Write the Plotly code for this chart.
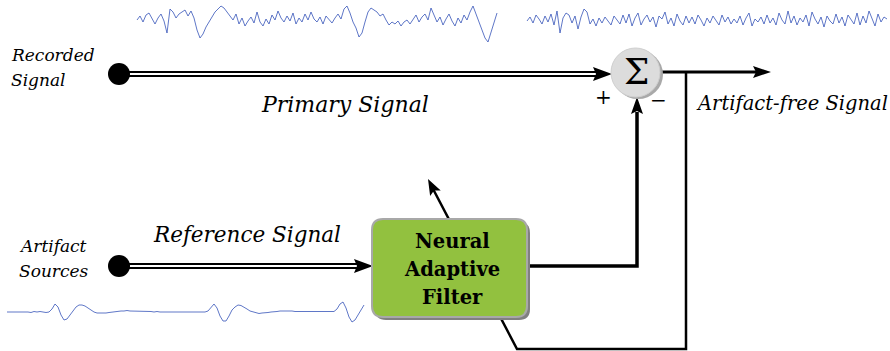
import plotly.graph_objects as go
import math

# ---------------- data ----------------
# recorded EEG (primary) trace, amplitude samples
recorded_eeg = [0, 4, -2, 5, 7, 1, -4, 2, 6, -1,
                -13, 11, 8, 2, 6, 8, 10, 4, 9, 2,
                -10, -18, -14, -7, -2, 4, 8, 11, 14, 12,
                8, 4, 0, 6, -4, 2, -6, -1, 3, -3,
                8, -2, -6, 1, -4, 5, 0, 9, 2, -2,
                4, -1, 7, -4, 2, -2, 6, 0, 8, 1,
                -2, 3, -4, 4, 0, -3, 2, 6, 1, 11,
                14, 7, -2, -8, -17, -13, -2, 8, 12, 10,
                8, 4, 6, 0, -5, -2, -4, -1, -6, -2,
                0, -4, 1, 5, -2, 3, 6, 0, 12, 4,
                -2, 3, -5, 1, 6, -1, -6, 2, -3, 5,
                0, 8, 14, 6, -2, -10, -18, -22, -13, -4,
                7]
# artifact-free output trace
clean_eeg = [0, 4, -2, 6, 2, -3, 5, -1, 7, -4,
             10, -12, 3, 8, 6, -2, 5, -8, 4, 12,
             9, -3, 2, -5, 3, -2, 4, 0, -4, 5,
             1, -3, 6, -2, 7, -5, 3, 8, -4, 2,
             6, -1, 4, -6, 5, 2, 9, -3, 3, -5,
             7, 0, -4, 5, -2, 4, -3, 6, 1, -5,
             3, -2, 5, 0, -4, 6, -1, 4, -3, 2,
             -2, 5, -4, 3, 8, -5, 2, -1, 4, -3,
             6, -2, 3, -4, 8, 1, -3, 10, -2, 5,
             -4, 3, -1, 6, -5, 9, 2, -3, 4, -6,
             5, 0, -3, 7, -2, 4, -5, 6, 1, -3,
             8, -4, 5, -2, 10, 3, -5, 7, -1, 4,
             2]
# artifact (EOG-like) reference trace
artifact = [0, 0, 0.5, 0, 0, 0.5, 0, 0, -0.5, 0.5,
            0, 0.5, 0, -0.5, 0, 3, 8, 5, -3, -8,
            -7, -3, 2, 5, 7, 7, 6, 4, 2, 0,
            -1, -1, -1.5, -1, -0.5, 0, 0.5, 1, 1, 1,
            1.5, 1, 1, 1, 1, 0.5, 1, 0.5, 0.5, 0,
            0.5, 0, 0, 0.5, 0, 0, 0.5, 0, 0, 0,
            0.5, 0, 0.5, 0, 0, 0.5, 0, 1, 5, 8,
            4, -4, -9, -9, -4, 2, 5, 7, 6.5, 5,
            3, 1, 0, -1, -1.5, -1, -1, -0.5, 0, 0,
            0.5, 1, 1, 1.5, 1, 1, 0.5, 0.5, 0, 0,
            0.5, 0, 0, 0.5, 0, 0, 0, 0.5, 0, 0.5,
            3, 8, 10, 4, -5, -10, -8, -3, 2, 7]

recorded_label = ["Recorded", "Signal"]
artifact_label = ["Artifact", "Sources"]
filter_label = ["Neural", "Adaptive", "Filter"]
primary_label = "Primary Signal"
reference_label = "Reference Signal"
output_label = "Artifact-free Signal"

# ---------------- helpers ----------------
W, H = 890, 351
SERIF = "DejaVu Serif"
BLUE = "rgba(55,85,185,0.8)"

fig = go.Figure()

def trace(vals, x0, step, base, scale=1.0):
    xs = [x0 + i * step for i in range(len(vals))]
    ys = [base - v * scale for v in vals]
    fig.add_trace(go.Scatter(x=xs, y=ys, mode="lines",
                             line=dict(color=BLUE, width=1),
                             hoverinfo="skip", showlegend=False))

trace(recorded_eeg, 137, 3, 20)
trace(clean_eeg, 527, 3, 21)
trace(artifact, 7, 3, 312)

shapes = []

def line(x0, y0, x1, y1, w=2, c="black"):
    shapes.append(dict(type="line", x0=x0, y0=y0, x1=x1, y1=y1,
                       line=dict(color=c, width=w), layer="above"))

def path(d, fill=None, lc="black", lw=0, layer="above"):
    s = dict(type="path", path=d, line=dict(color=lc, width=lw), layer=layer)
    if fill:
        s["fillcolor"] = fill
    shapes.append(s)

def arrowhead(tx, ty, dx, dy, L=18, Wd=7, notch=4):
    n = math.hypot(dx, dy)
    ux, uy = dx / n, dy / n
    px, py = -uy, ux
    bx, by = tx - ux * L, ty - uy * L
    nx, ny = tx - ux * (L - notch), ty - uy * (L - notch)
    d = (f"M {tx},{ty} L {bx + px * Wd},{by + py * Wd} "
         f"L {nx},{ny} L {bx - px * Wd},{by - py * Wd} Z")
    path(d, fill="black", lw=0)

def double_arrow(x0, x1, y):
    line(x0, y, x1 - 14, y, w=6)
    line(x0 + 6, y, x1 - 16, y, w=2, c="white")
    arrowhead(x1, y, 1, 0, L=19, Wd=7, notch=3)

def rrect(x0, y0, x1, y1, r):
    return (f"M {x0 + r},{y0} L {x1 - r},{y0} Q {x1},{y0} {x1},{y0 + r} "
            f"L {x1},{y1 - r} Q {x1},{y1} {x1 - r},{y1} L {x0 + r},{y1} "
            f"Q {x0},{y1} {x0},{y1 - r} L {x0},{y0 + r} Q {x0},{y0} {x0 + r},{y0} Z")

# feedback path (behind the filter box)
path("M 686,72 L 686,349 L 517,349 L 432,187", lw=2.5)
arrowhead(428, 179, -89, -170, L=16, Wd=6, notch=3)

# primary & reference double arrows
double_arrow(119, 612, 74)
double_arrow(119, 373, 266)

# source dots
for cy in (74, 266):
    shapes.append(dict(type="circle", x0=108, y0=cy - 11, x1=130, y1=cy + 11,
                       fillcolor="black", line=dict(color="black", width=0)))

# output line
line(660, 72, 756, 72, w=3)
arrowhead(771, 72, 1, 0, L=18, Wd=6, notch=3)

# filter output to summation
path("M 527,266 L 637,266 L 637,112", lw=3.5)
arrowhead(637, 97, 0, -1, L=17, Wd=6, notch=3)

# summation node
shapes.append(dict(type="circle", x0=613, y0=50, x1=663, y1=99,
                   fillcolor="#A9A9A9", line=dict(width=0)))
shapes.append(dict(type="circle", x0=611, y0=48, x1=660, y1=97,
                   fillcolor="#DCDCDC", line=dict(color="#CFCFCF", width=1)))

# filter box
path(rrect(375, 222, 530, 320, 11), fill="#808080", lw=0)
path(rrect(372, 219, 527, 317, 11), fill="#92C13F", lc="#A8A8A8", lw=2)

annotations = []

def text(x, y, s, size, anchor="center", italic=False, bold=False):
    if italic:
        s = f"<i>{s}</i>"
    if bold:
        s = f"<b>{s}</b>"
    annotations.append(dict(x=x, y=y, text=s, xanchor=anchor, yanchor="middle",
                            showarrow=False, xref="x", yref="y",
                            font=dict(family=SERIF, size=size, color="black")))

for s, y in zip(recorded_label, (55, 80)):
    text(9, y, s, 17, anchor="left", italic=True)
for s, y in zip(artifact_label, (246, 271)):
    text(17, y, s, 17, anchor="left", italic=True)
text(345, 104, primary_label, 22, italic=True)
text(247, 234, reference_label, 21.5, italic=True)
text(792, 103, output_label, 19.5, italic=True)
for s, y in zip(filter_label, (241, 269, 297)):
    text(452, y, s, 19.5, bold=True)
text(636, 71, "Σ", 36)
text(603, 97, "+", 20)
text(658, 100, "−", 20)

fig.update_layout(
    width=W, height=H,
    margin=dict(l=0, r=0, t=0, b=0),
    paper_bgcolor="white", plot_bgcolor="white",
    xaxis=dict(range=[0, W], visible=False, fixedrange=True),
    yaxis=dict(range=[H, 0], visible=False, fixedrange=True),
    shapes=shapes, annotations=annotations, showlegend=False,
)

fig.write_html("out.html", config={"displayModeBar": False},
               post_script="document.body.style.margin='0';document.body.style.overflow='hidden';")
